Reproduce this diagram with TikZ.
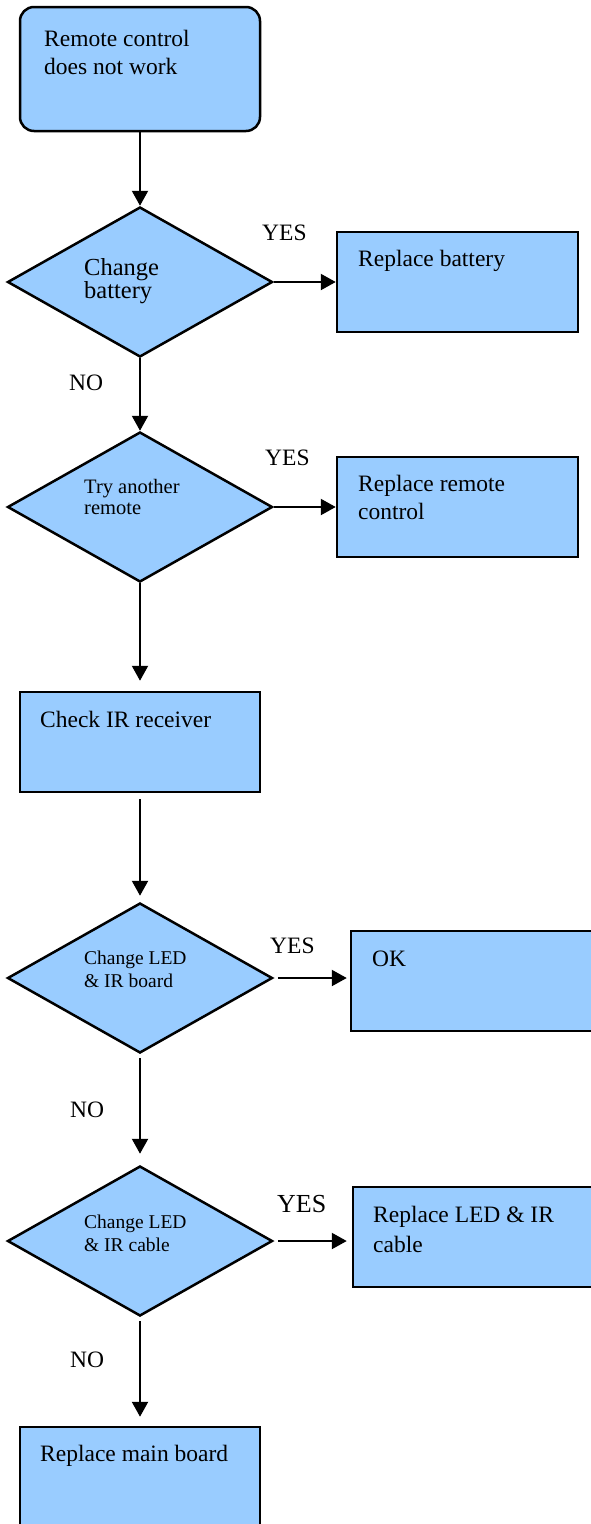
\documentclass[tikz,border=0pt]{standalone}
\usepackage{fontspec}
\setmainfont{Liberation Serif}
\usetikzlibrary{shapes.geometric,arrows.meta}
\definecolor{boxblue}{RGB}{153,204,255}
\tikzset{
  boxnode/.style={draw=black, fill=boxblue, line width=2.5pt, rectangle, inner sep=0pt, minimum width=241pt, minimum height=100pt},
  startnode/.style={boxnode, rounded corners=14pt, minimum width=240pt, minimum height=124pt},
  decision/.style={draw=black, fill=boxblue, line width=2.5pt, diamond, inner sep=0pt, minimum width=265pt, minimum height=150pt},
  conn/.style={line width=2.2pt, -{Triangle[length=15pt,width=16pt]}},
  bigtxt/.style={font=\fontsize{23.5}{28}\selectfont, anchor=base west, inner sep=0pt},
  smalltxt/.style={font=\fontsize{19.5}{23}\selectfont, anchor=base west, inner sep=0pt},
}
\begin{document}
\begin{tikzpicture}[x=1pt,y=-1pt]
\useasboundingbox (0,0) rectangle (590,1524);
% shapes
\node[startnode] (start) at (140,69) {};
\node[decision] (d1) at (140,282) {};
\node[boxnode] (b1) at (457.5,282) {};
\node[decision] (d2) at (140,507) {};
\node[boxnode] (b2) at (457.5,507) {};
\node[boxnode, minimum width=240pt] (ir) at (140,742) {};
\node[decision] (d3) at (140,978) {};
\node[boxnode] (ok) at (471.5,981) {};
\node[decision] (d4) at (140,1241) {};
\node[boxnode] (cab) at (473.5,1237) {};
\node[boxnode, minimum width=240pt] (mb) at (140,1477) {};
% texts
\node[bigtxt] (t1a) at (44,46) {Remote control};
\node[bigtxt] (t1b) at (44,74) {does not work};
\node[bigtxt, font=\fontsize{24.5}{28}\selectfont] (t2a) at (84,275) {Change};
\node[bigtxt, font=\fontsize{24.5}{28}\selectfont] (t2b) at (84,298) {battery};
\node[bigtxt] (t3) at (358,266) {Replace battery};
\node[smalltxt, font=\fontsize{20.5}{23}\selectfont] (t4a) at (84,493) {Try another};
\node[smalltxt, font=\fontsize{20.5}{23}\selectfont] (t4b) at (84,514) {remote};
\node[bigtxt] (t5a) at (358,491) {Replace remote};
\node[bigtxt] (t5b) at (358,519) {control};
\node[bigtxt] (t6) at (40,727) {Check IR receiver};
\node[smalltxt] (t7a) at (84,964) {Change LED};
\node[smalltxt] (t7b) at (84,987) {\& IR board};
\node[bigtxt] (t8) at (372,966) {OK};
\node[smalltxt] (t9a) at (84,1228) {Change LED};
\node[smalltxt] (t9b) at (84,1251) {\& IR cable};
\node[bigtxt] (t10a) at (373,1222) {Replace LED \& IR};
\node[bigtxt] (t10b) at (373,1252) {cable};
\node[bigtxt] (t11) at (40,1461) {Replace main board};
% labels
\node[bigtxt] (y1) at (262,240) {YES};
\node[bigtxt] (y2) at (265,465) {YES};
\node[bigtxt] (y3) at (270,953) {YES};
\node[bigtxt, font=\fontsize{26}{28}\selectfont] (y4) at (277,1212) {YES};
\node[bigtxt] (n1) at (69,390) {NO};
\node[bigtxt] (n2) at (70,1117) {NO};
\node[bigtxt] (n3) at (70,1367) {NO};
% connectors
\draw[conn] (start.south) -- (d1.north);
\draw[conn] (d1.east) -- (b1.west);
\draw[conn] (d1.south) -- (d2.north);
\draw[conn] (d2.east) -- (b2.west);
\draw[conn, shorten >=10pt] (d2.south) -- (ir.north);
\draw[conn, shorten <=6pt, shorten >=6pt] (ir.south) -- (d3.north);
\draw[conn, shorten <=4pt, shorten >=3pt] (d3.east) -- (d3.east -| ok.west);
\draw[conn, shorten <=4pt, shorten >=11pt] (d3.south) -- (d4.north);
\draw[conn, shorten <=4pt, shorten >=5pt] (d4.east) -- (d4.east -| cab.west);
\draw[conn, shorten <=4pt, shorten >=9pt] (d4.south) -- (mb.north);
\end{tikzpicture}
\end{document}
